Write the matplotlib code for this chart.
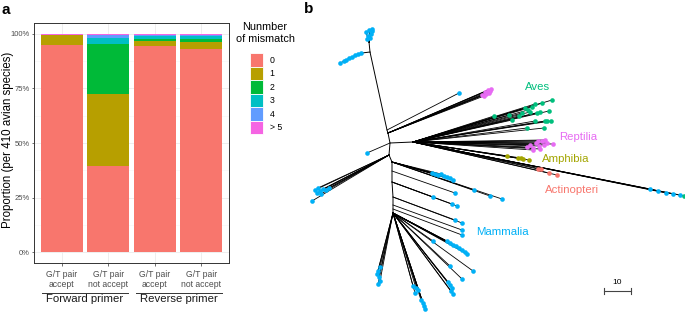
import matplotlib
matplotlib.use("Agg")
import matplotlib.pyplot as plt
from matplotlib.patches import Patch
import numpy as np

plt.rcParams['font.family'] = ['Liberation Sans', 'DejaVu Sans']

# ---------------- Panel a data ----------------
bar_labels = ["G/T pair\naccept", "G/T pair\nnot accept", "G/T pair\naccept", "G/T pair\nnot accept"]
groups = ["Forward primer", "Reverse primer"]
mismatch_levels = ["0", "1", "2", "3", "4", "> 5"]
mismatch_colors = ["#F8766D", "#B79F00", "#00BA38", "#00BFC4", "#619CFF", "#F564E3"]
prop_0 = [0.950, 0.396, 0.945, 0.930]
prop_1 = [0.045, 0.330, 0.021, 0.032]
prop_2 = [0.000, 0.227, 0.012, 0.016]
prop_3 = [0.000, 0.027, 0.013, 0.011]
prop_4 = [0.000, 0.014, 0.006, 0.007]
prop_5 = [0.005, 0.006, 0.003, 0.004]
yticks = [0, 0.25, 0.5, 0.75, 1.0]
ytick_labels = ["0%", "25%", "50%", "75%", "100%"]

# ---------------- Panel b data (tree layout) ----------------
class_colors = {"Actinopteri": "#F8766D", "Amphibia": "#A3A500", "Aves": "#00BF7D",
                "Mammalia": "#00B0F6", "Reptilia": "#E76BF3"}
backbone = [(370, 52), (387, 130), (388, 133), (390, 143), (389, 155), (392, 162), (392, 171),
            (392, 182), (393, 197), (393, 205), (393, 209), (393, 213)]
inner_edges = [((390, 143), (413, 142)), ((370, 52), (369, 42)), ((370, 52), (362, 53))]
clades = [
    ((369, 42), "Mammalia", [(366, 32), (369, 30), (372, 29), (371, 34), (368, 36), (370, 38), (367, 39), (372, 31)]),
    ((362, 53), "Mammalia", [(361, 53), (358, 54), (355, 55), (352, 57), (349, 58), (346, 60), (344, 61), (340, 63)]),
    ((387, 130), "Mammalia", [(459, 93)]),
    ((388, 133), "Reptilia", [(482, 95), (485, 92), (488, 90), (490, 91), (486, 94), (484, 96), (489, 93), (491, 89)]),
    ((390, 143), "Mammalia", [(367, 153)]),
    ((413, 142), "Aves", [(494, 116), (509, 115), (512, 120), (519, 116), (525, 108), (530, 112), (535, 104),
                          (537, 113), (542, 103), (549, 111), (552, 100), (545, 121), (551, 121), (535, 121),
                          (527, 128), (544, 128), (528, 110), (532, 107), (540, 112), (547, 121), (522, 113)]),
    ((413, 142), "Reptilia", [(527, 147), (530, 145), (533, 148), (536, 143), (539, 146), (542, 141), (545, 140),
                              (547, 143), (540, 149), (533, 150), (553, 144), (544, 145), (538, 141)]),
    ((413, 142), "Amphibia", [(507, 156), (518, 158), (521, 158), (523, 159), (529, 160)]),
    ((413, 142), "Actinopteri", [(538, 169), (541, 169), (549, 173), (557, 175)]),
    ((413, 142), "Mammalia", [(650, 189), (658, 191), (666, 193), (673, 194), (680, 195)]),
    ((413, 142), "Aves", [(684, 196)]),
    ((389, 155), "Mammalia", [(315, 190), (318, 188), (320, 191), (323, 189), (326, 190), (329, 188),
                              (317, 193), (321, 194), (312, 201)]),
    ((392, 162), "Mammalia", [(432, 173), (435, 174), (438, 175), (441, 174), (444, 176), (447, 177),
                              (450, 178), (453, 180), (474, 190), (490, 196), (502, 199)]),
    ((392, 171), "Mammalia", [(455, 193)]),
    ((392, 182), "Mammalia", [(433, 197), (452, 204), (457, 206)]),
    ((393, 197), "Mammalia", [(455, 220), (462, 223)]),
    ((393, 205), "Mammalia", [(462, 230)]),
    ((393, 209), "Mammalia", [(462, 235)]),
    ((393, 213), "Mammalia", [(433, 241), (447, 241), (450, 243), (453, 245), (456, 246), (459, 248), (462, 250),
                              (465, 252), (467, 254), (450, 266), (473, 271), (462, 279),
                              (448, 282), (450, 285), (452, 288), (451, 291), (453, 294),
                              (413, 286), (416, 288), (418, 290), (415, 293),
                              (421, 300), (423, 303), (424, 306), (425, 309),
                              (380, 267), (378, 271), (377, 274), (379, 277), (380, 281), (378, 284)]),
]
clade_labels = [("Aves", 538, 87), ("Reptilia", 578, 137), ("Amphibia", 566, 159),
                ("Actinopteri", 572, 190), ("Mammalia", 502, 232)]
scale_length = 27
scale_label = "10"

# ---------------- Figure ----------------
W, H = 685, 312
fig = plt.figure(figsize=(W / 100, H / 100), dpi=100)

ax = fig.add_axes([34 / W, (H - 263) / H, 195 / W, 240 / H])
x = np.arange(1, 5)
series = [prop_0, prop_1, prop_2, prop_3, prop_4, prop_5]
bottom = np.zeros(4)
for vals, col in zip(series, mismatch_colors):
    ax.bar(x, vals, bottom=bottom, width=0.9, color=col, linewidth=0, zorder=3)
    bottom += np.array(vals)
ax.set_xlim(0.4, 4.6)
ax.set_ylim(-0.05, 1.05)
ax.set_yticks(yticks)
ax.set_yticklabels(ytick_labels)
ax.set_yticks([0.125, 0.375, 0.625, 0.875], minor=True)
ax.set_xticks(x)
ax.set_xticklabels(bar_labels, fontsize=6.2, color="#4D4D4D", linespacing=1.2)
ax.tick_params(axis="y", labelsize=5.5, labelcolor="#4D4D4D", length=1.5, width=0.5, color="#333333", pad=1.5)
ax.tick_params(axis="y", which="minor", length=0)
ax.tick_params(axis="x", length=2.5, width=0.5, color="#333333", pad=2.5)
ax.grid(True, which="major", color="#EBEBEB", linewidth=0.6, zorder=0)
ax.grid(True, which="minor", axis="y", color="#F5F5F5", linewidth=0.4, zorder=0)
for s in ax.spines.values():
    s.set_color("#333333")
    s.set_linewidth(0.7)
fig.text(8 / W, 1 - 140 / H, "Proportion (per 410 avian species)", fontsize=8.3, rotation=90,
         ha="center", va="center")

tr = ax.get_xaxis_transform()
for (x0, x1), g in zip([(0.57, 2.42), (2.59, 4.44)], groups):
    ax.plot([x0, x1], [-0.123, -0.123], transform=tr, color="#333333", lw=0.7, clip_on=False)
    ax.text((x0 + x1) / 2, -0.152, g, transform=tr, ha="center", va="center", fontsize=8.2, color="#1A1A1A")

fig.text(265 / W, 1 - 33 / H, "Nunmber\nof mismatch", fontsize=7.8, ha="center", va="center",
         multialignment="center", linespacing=1.25)
handles = [Patch(facecolor=c, edgecolor="white", linewidth=0.6) for c in mismatch_colors]
leg = fig.legend(handles, mismatch_levels, loc="upper left",
                 bbox_to_anchor=(250 / W, 1 - 53 / H), frameon=False, fontsize=6.3,
                 handlelength=1.45, handleheight=2.0, labelspacing=0.0,
                 handletextpad=0.8, borderpad=0.0, borderaxespad=0.0)

fig.text(2 / W, 1 - 10 / H, "a", fontsize=11, fontweight="bold", va="center", ha="left")
fig.text(304 / W, 1 - 9 / H, "b", fontsize=11, fontweight="bold", va="center", ha="left")

# ---------------- Panel b ----------------
axb = fig.add_axes([300 / W, 0, (W - 300) / W, 1])
axb.set_xlim(300, W)
axb.set_ylim(H, 0)
axb.axis("off")
bx, by = zip(*backbone)
axb.plot(bx, by, color="black", lw=0.7, solid_capstyle="butt", zorder=1)
for (p, q) in inner_edges:
    axb.plot([p[0], q[0]], [p[1], q[1]], color="black", lw=0.7, zorder=1)
for parent, cls, tips in clades:
    for t in tips:
        axb.plot([parent[0], t[0]], [parent[1], t[1]], color="black", lw=0.6, zorder=1)
for parent, cls, tips in clades:
    tx, ty = zip(*tips)
    axb.scatter(tx, ty, s=11, color=class_colors[cls], linewidths=0, zorder=3, clip_on=False)
for name, lx, ly in clade_labels:
    axb.text(lx, ly, name, color=class_colors[name], fontsize=8.2, ha="center", va="center")

sx0 = 604
axb.plot([sx0, sx0 + scale_length], [291, 291], color="#444444", lw=0.8)
axb.plot([sx0, sx0], [288, 294], color="#444444", lw=0.8)
axb.plot([sx0 + scale_length, sx0 + scale_length], [288, 294], color="#444444", lw=0.8)
axb.text(sx0 + scale_length / 2, 286, scale_label, fontsize=6, ha="center", va="bottom")

fig.savefig("out.png", dpi=100)
